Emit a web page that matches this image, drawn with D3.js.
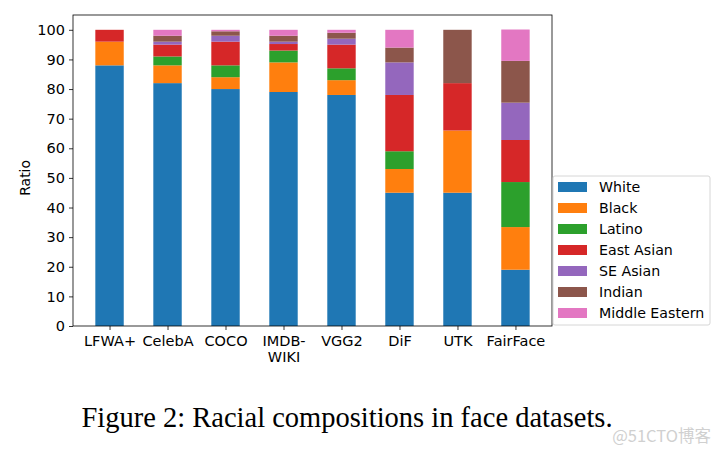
<!DOCTYPE html>
<html>
<head>
<meta charset="utf-8">
<script src="https://cdn.jsdelivr.net/npm/d3@7"></script>
<style>
  body { margin: 0; background: #fff; }
  svg { font-family: "DejaVu Sans", sans-serif; }
</style>
</head>
<body>
<svg id="chart" width="720" height="455"></svg>
<script>
// Data

var datasets = ["LFWA+", "CelebA", "COCO", "IMDB-WIKI", "VGG2", "DiF", "UTK", "FairFace"];
var races = ["White", "Black", "Latino", "East Asian", "SE Asian", "Indian", "Middle Eastern"];
var colors = ["#1f77b4", "#ff7f0e", "#2ca02c", "#d62728", "#9467bd", "#8c564b", "#e377c2"];

var white = [88, 82, 80, 79, 78, 45, 45, 19];
var black = [8, 6, 4, 10, 5, 8, 21, 14.4];
var latino = [0, 3, 4, 4, 4, 6, 0, 15.2];
var eastAsian = [4, 4, 8, 2.2, 8, 19, 16, 14.2];
var seAsian = [0, 1, 2, 0.8, 2, 11, 0, 12.6];
var indian = [0, 2, 1.5, 2, 2, 5, 18, 14.1];
var middleEastern = [0, 2, 0.5, 2, 1, 6, 0, 10.6];

var yTicks = [0, 10, 20, 30, 40, 50, 60, 70, 80, 90, 100];

// Build rows for d3.stack

var rows = datasets.map(function (d, i) {
    return {
        name: d, idx: i,
        "White": white[i], "Black": black[i], "Latino": latino[i],
        "East Asian": eastAsian[i], "SE Asian": seAsian[i],
        "Indian": indian[i], "Middle Eastern": middleEastern[i]
    };
});
var series = d3.stack().keys(races)(rows);

var svg = d3.select("#chart");
var mLeft = 73, mRight = 552, mTop = 15, mBottom = 326;

var x = d3.scaleLinear().domain([-0.63, 7.63]).range([mLeft, mRight]);
var y = d3.scaleLinear().domain([0, 105]).range([mBottom, mTop]);
var barW = x(0.49) - x(0);
var color = d3.scaleOrdinal().domain(races).range(colors);

// bars
svg.append("g").selectAll("g")
    .data(series)
    .enter()
    .append("g")
    .attr("fill", function (s) { return color(s.key); })
    .selectAll("rect")
    .data(function (s) { return s; })
    .enter()
    .append("rect")
    .attr("x", function (d) { return x(d.data.idx) - barW / 2; })
    .attr("y", function (d) { return y(d[1]); })
    .attr("width", barW)
    .attr("height", function (d) { return y(d[0]) - y(d[1]); });

// axes
var yAxis = svg.append("g")
    .attr("transform", "translate(" + mLeft + ",0)")
    .call(d3.axisLeft(y).tickValues(yTicks).tickSize(4).tickPadding(4));

var xAxis = svg.append("g")
    .attr("transform", "translate(0," + mBottom + ")")
    .call(d3.axisBottom(x).tickValues(d3.range(datasets.length)).tickSize(4).tickPadding(6)
        .tickFormat(function (i) { return datasets[i]; }));

[yAxis, xAxis].forEach(function (a) {
    a.selectAll("text").attr("font-size", "14.5px").attr("fill", "#000")
        .attr("font-family", "DejaVu Sans, sans-serif");
    a.selectAll("line").attr("stroke", "#000").attr("stroke-width", 0.8);
    a.select(".domain").remove();
});

// split IMDB-WIKI on two lines
xAxis.selectAll("text").each(function (i) {
    if (datasets[i] === "IMDB-WIKI") {
        var t = d3.select(this).text(null);
        t.append("tspan").attr("x", 0).attr("dy", "0.71em").text("IMDB-");
        t.append("tspan").attr("x", 0).attr("dy", "1.05em").text("WIKI");
        t.attr("dy", null);
    }
});

// frame
svg.append("rect")
    .attr("x", mLeft).attr("y", mTop)
    .attr("width", mRight - mLeft).attr("height", mBottom - mTop)
    .attr("fill", "none").attr("stroke", "#000").attr("stroke-width", 0.8);

svg.append("text")
    .attr("transform", "translate(30," + y(50) + ") rotate(-90)")
    .attr("text-anchor", "middle")
    .attr("font-size", "14px")
    .text("Ratio");

// legend
var legend = svg.append("g").attr("transform", "translate(553,176)");
legend.append("rect")
    .attr("width", 157).attr("height", 149).attr("rx", 2)
    .attr("fill", "#fff").attr("fill-opacity", 0.9)
    .attr("stroke", "#ccc").attr("stroke-width", 0.8);

var items = legend.selectAll(".item")
    .data(races)
    .enter()
    .append("g")
    .attr("transform", function (d, i) { return "translate(0," + (11 + i * 21) + ")"; });
items.append("rect")
    .attr("x", 5).attr("y", -5)
    .attr("width", 29).attr("height", 10)
    .attr("fill", function (d) { return color(d); });
items.append("text")
    .attr("x", 46).attr("dy", "0.35em")
    .attr("font-size", "14.2px")
    .text(function (d) { return d; });

// caption
svg.append("text")
    .attr("x", 347).attr("y", 427)
    .attr("text-anchor", "middle")
    .attr("font-family", "Liberation Serif, serif")
    .attr("font-size", "28.5px")
    .text("Figure 2: Racial compositions in face datasets.");

svg.append("text")
    .attr("x", 711).attr("y", 442)
    .attr("text-anchor", "end")
    .attr("font-size", "16.5px")
    .attr("fill", "#d0d0d0")
    .attr("font-family", "Noto Sans CJK SC, sans-serif")
    .text("@51CTO博客");
</script>
</body>
</html>
